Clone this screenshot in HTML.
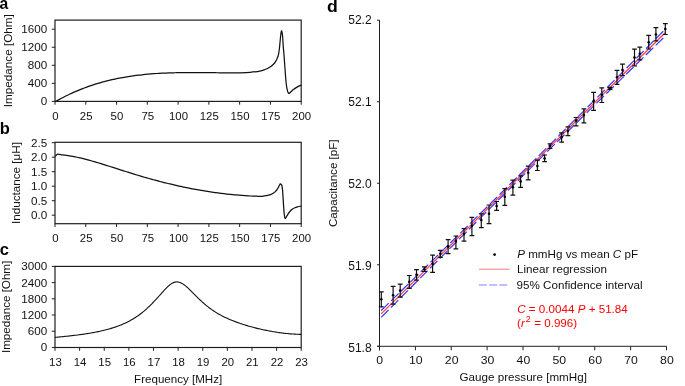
<!DOCTYPE html>
<html><head><meta charset="utf-8"><style>html,body{margin:0;padding:0;background:#fff;overflow:hidden}svg{display:block;will-change:transform}</style></head><body>
<svg width="685" height="386" viewBox="0 0 685 386" font-family='"Liberation Sans", sans-serif'>
<rect width="685" height="386" fill="#fff"/>
<rect x="55.0" y="20.1" width="246.2" height="81.30000000000001" fill="none" stroke="#1e1e1e" stroke-width="1.2"/>
<line x1="51.8" y1="101.4" x2="55.0" y2="101.4" stroke="#1e1e1e" stroke-width="1"/>
<text transform="translate(47.20,105.30) scale(1.035,1)" font-size="11.3" text-anchor="end" fill="#111" >0</text>
<line x1="51.8" y1="83.35000000000001" x2="55.0" y2="83.35000000000001" stroke="#1e1e1e" stroke-width="1"/>
<text transform="translate(47.20,87.25) scale(1.035,1)" font-size="11.3" text-anchor="end" fill="#111" >400</text>
<line x1="51.8" y1="65.30000000000001" x2="55.0" y2="65.30000000000001" stroke="#1e1e1e" stroke-width="1"/>
<text transform="translate(47.20,69.20) scale(1.035,1)" font-size="11.3" text-anchor="end" fill="#111" >800</text>
<line x1="51.8" y1="47.25" x2="55.0" y2="47.25" stroke="#1e1e1e" stroke-width="1"/>
<text transform="translate(47.20,51.15) scale(1.035,1)" font-size="11.3" text-anchor="end" fill="#111" >1200</text>
<line x1="51.8" y1="29.200000000000003" x2="55.0" y2="29.200000000000003" stroke="#1e1e1e" stroke-width="1"/>
<text transform="translate(47.20,33.10) scale(1.035,1)" font-size="11.3" text-anchor="end" fill="#111" >1600</text>
<line x1="55.0" y1="101.4" x2="55.0" y2="104.7" stroke="#1e1e1e" stroke-width="1"/>
<text transform="translate(55.40,119.50) scale(1.01,1)" font-size="11.3" text-anchor="middle" fill="#111" >0</text>
<line x1="85.775" y1="101.4" x2="85.775" y2="104.7" stroke="#1e1e1e" stroke-width="1"/>
<text transform="translate(86.18,119.50) scale(1.01,1)" font-size="11.3" text-anchor="middle" fill="#111" >25</text>
<line x1="116.55" y1="101.4" x2="116.55" y2="104.7" stroke="#1e1e1e" stroke-width="1"/>
<text transform="translate(116.95,119.50) scale(1.01,1)" font-size="11.3" text-anchor="middle" fill="#111" >50</text>
<line x1="147.325" y1="101.4" x2="147.325" y2="104.7" stroke="#1e1e1e" stroke-width="1"/>
<text transform="translate(147.72,119.50) scale(1.01,1)" font-size="11.3" text-anchor="middle" fill="#111" >75</text>
<line x1="178.1" y1="101.4" x2="178.1" y2="104.7" stroke="#1e1e1e" stroke-width="1"/>
<text transform="translate(178.50,119.50) scale(1.01,1)" font-size="11.3" text-anchor="middle" fill="#111" >100</text>
<line x1="208.875" y1="101.4" x2="208.875" y2="104.7" stroke="#1e1e1e" stroke-width="1"/>
<text transform="translate(209.28,119.50) scale(1.01,1)" font-size="11.3" text-anchor="middle" fill="#111" >125</text>
<line x1="239.64999999999998" y1="101.4" x2="239.64999999999998" y2="104.7" stroke="#1e1e1e" stroke-width="1"/>
<text transform="translate(240.05,119.50) scale(1.01,1)" font-size="11.3" text-anchor="middle" fill="#111" >150</text>
<line x1="270.42499999999995" y1="101.4" x2="270.42499999999995" y2="104.7" stroke="#1e1e1e" stroke-width="1"/>
<text transform="translate(270.82,119.50) scale(1.01,1)" font-size="11.3" text-anchor="middle" fill="#111" >175</text>
<line x1="301.2" y1="101.4" x2="301.2" y2="104.7" stroke="#1e1e1e" stroke-width="1"/>
<text transform="translate(301.60,119.50) scale(1.01,1)" font-size="11.3" text-anchor="middle" fill="#111" >200</text>
<path d="M55.00,101.80 C55.50,101.52 57.00,100.67 58.00,100.12 C59.00,99.58 60.00,99.04 61.00,98.51 C62.00,97.99 63.00,97.47 64.00,96.96 C65.00,96.46 66.00,95.96 67.00,95.48 C68.00,94.99 69.00,94.51 70.00,94.05 C71.00,93.58 72.00,93.12 73.00,92.68 C74.00,92.23 75.00,91.79 76.00,91.37 C77.00,90.94 78.00,90.52 79.00,90.11 C80.00,89.70 81.00,89.30 82.00,88.91 C83.00,88.52 84.00,88.14 85.00,87.76 C86.00,87.39 87.00,87.02 88.00,86.67 C89.00,86.31 90.00,85.97 91.00,85.63 C92.00,85.29 93.00,84.96 94.00,84.64 C95.00,84.31 96.00,84.00 97.00,83.69 C98.00,83.39 99.00,83.09 100.00,82.80 C101.00,82.51 102.00,82.23 103.00,81.96 C104.00,81.68 105.00,81.42 106.00,81.16 C107.00,80.90 108.00,80.65 109.00,80.40 C110.00,80.16 111.00,79.92 112.00,79.69 C113.00,79.47 114.00,79.24 115.00,79.03 C116.00,78.81 117.00,78.60 118.00,78.40 C119.00,78.20 120.00,78.01 121.00,77.82 C122.00,77.63 123.00,77.45 124.00,77.27 C125.00,77.10 126.00,76.93 127.00,76.77 C128.00,76.60 129.00,76.45 130.00,76.30 C131.00,76.15 132.00,76.00 133.00,75.86 C134.00,75.72 135.00,75.59 136.00,75.46 C137.00,75.33 138.00,75.21 139.00,75.09 C140.00,74.97 141.00,74.86 142.00,74.76 C143.00,74.65 144.00,74.55 145.00,74.45 C146.00,74.35 147.00,74.26 148.00,74.17 C149.00,74.08 150.00,74.00 151.00,73.92 C152.00,73.84 153.00,73.77 154.00,73.70 C155.00,73.63 156.00,73.56 157.00,73.50 C158.00,73.44 159.00,73.38 160.00,73.32 C161.00,73.27 162.00,73.22 163.00,73.17 C164.00,73.12 165.00,73.08 166.00,73.04 C167.00,73.00 168.00,72.96 169.00,72.92 C170.00,72.89 171.00,72.86 172.00,72.83 C173.00,72.80 174.00,72.78 175.00,72.75 C176.00,72.73 177.00,72.71 178.00,72.69 C179.00,72.68 180.00,72.66 181.00,72.65 C182.00,72.63 183.00,72.62 184.00,72.61 C185.00,72.61 186.00,72.60 187.00,72.59 C188.00,72.59 189.00,72.58 190.00,72.58 C191.00,72.58 192.00,72.58 193.00,72.58 C194.00,72.58 195.00,72.58 196.00,72.59 C197.00,72.59 198.00,72.60 199.00,72.60 C200.00,72.61 201.00,72.61 202.00,72.62 C203.00,72.63 204.00,72.64 205.00,72.64 C206.00,72.65 207.00,72.66 208.00,72.67 C209.00,72.68 210.00,72.69 211.00,72.70 C212.00,72.71 213.00,72.72 214.00,72.72 C215.00,72.73 216.00,72.74 217.00,72.75 C218.00,72.76 219.00,72.77 220.00,72.77 C221.00,72.78 222.00,72.79 223.00,72.80 C224.00,72.80 225.00,72.81 226.00,72.81 C227.00,72.81 228.00,72.82 229.00,72.82 C230.00,72.82 231.00,72.82 232.00,72.82 C233.00,72.82 234.00,72.82 235.00,72.81 C236.00,72.81 237.17,72.80 238.00,72.80 C238.83,72.79 238.00,72.86 240.00,72.78 C242.00,72.70 247.17,72.50 250.00,72.30 C252.83,72.10 255.17,71.83 257.00,71.60 C258.83,71.37 259.45,71.33 261.00,70.90 C262.55,70.47 264.97,69.55 266.30,69.00 C267.63,68.45 268.13,68.12 269.00,67.60 C269.87,67.08 270.57,66.67 271.50,65.90 C272.43,65.13 273.75,64.03 274.60,63.00 C275.45,61.97 276.03,60.82 276.60,59.70 C277.17,58.58 277.65,57.33 278.00,56.30 C278.35,55.27 278.47,54.80 278.70,53.50 C278.93,52.20 279.18,50.33 279.40,48.50 C279.62,46.67 279.78,44.67 280.00,42.50 C280.22,40.33 280.47,37.43 280.70,35.50 C280.93,33.57 281.17,31.40 281.40,30.90 C281.63,30.40 281.88,31.40 282.10,32.50 C282.32,33.60 282.50,35.08 282.70,37.50 C282.90,39.92 283.08,44.08 283.30,47.00 C283.52,49.92 283.75,51.83 284.00,55.00 C284.25,58.17 284.53,62.33 284.80,66.00 C285.07,69.67 285.33,73.83 285.60,77.00 C285.87,80.17 286.10,82.75 286.40,85.00 C286.70,87.25 287.03,89.10 287.40,90.50 C287.77,91.90 288.08,93.12 288.60,93.40 C289.12,93.68 289.75,92.80 290.50,92.20 C291.25,91.60 292.02,90.65 293.10,89.80 C294.18,88.95 295.65,87.90 297.00,87.10 C298.35,86.30 300.50,85.35 301.20,85.00" fill="none" stroke="#111" stroke-width="1.25"/>
<text transform="translate(-0.50,8.90) scale(0.95,1)" font-size="16.5" text-anchor="start" fill="#000" font-weight="bold">a</text>
<text transform="translate(12.30,60.70) rotate(-90) scale(1.056,1)" font-size="11.1" text-anchor="middle" fill="#111" >Impedance [Ohm]</text>
<rect x="55.0" y="142.3" width="246.2" height="81.39999999999998" fill="none" stroke="#1e1e1e" stroke-width="1.2"/>
<line x1="51.8" y1="215.2" x2="55.0" y2="215.2" stroke="#1e1e1e" stroke-width="1"/>
<text transform="translate(47.20,219.10) scale(1.035,1)" font-size="11.3" text-anchor="end" fill="#111" >0.0</text>
<line x1="51.8" y1="200.7" x2="55.0" y2="200.7" stroke="#1e1e1e" stroke-width="1"/>
<text transform="translate(47.20,204.60) scale(1.035,1)" font-size="11.3" text-anchor="end" fill="#111" >0.5</text>
<line x1="51.8" y1="186.2" x2="55.0" y2="186.2" stroke="#1e1e1e" stroke-width="1"/>
<text transform="translate(47.20,190.10) scale(1.035,1)" font-size="11.3" text-anchor="end" fill="#111" >1.0</text>
<line x1="51.8" y1="171.7" x2="55.0" y2="171.7" stroke="#1e1e1e" stroke-width="1"/>
<text transform="translate(47.20,175.60) scale(1.035,1)" font-size="11.3" text-anchor="end" fill="#111" >1.5</text>
<line x1="51.8" y1="157.2" x2="55.0" y2="157.2" stroke="#1e1e1e" stroke-width="1"/>
<text transform="translate(47.20,161.10) scale(1.035,1)" font-size="11.3" text-anchor="end" fill="#111" >2.0</text>
<line x1="51.8" y1="142.7" x2="55.0" y2="142.7" stroke="#1e1e1e" stroke-width="1"/>
<text transform="translate(47.20,146.60) scale(1.035,1)" font-size="11.3" text-anchor="end" fill="#111" >2.5</text>
<line x1="55.0" y1="223.7" x2="55.0" y2="227.0" stroke="#1e1e1e" stroke-width="1"/>
<text transform="translate(55.40,241.70) scale(1.01,1)" font-size="11.3" text-anchor="middle" fill="#111" >0</text>
<line x1="85.775" y1="223.7" x2="85.775" y2="227.0" stroke="#1e1e1e" stroke-width="1"/>
<text transform="translate(86.18,241.70) scale(1.01,1)" font-size="11.3" text-anchor="middle" fill="#111" >25</text>
<line x1="116.55" y1="223.7" x2="116.55" y2="227.0" stroke="#1e1e1e" stroke-width="1"/>
<text transform="translate(116.95,241.70) scale(1.01,1)" font-size="11.3" text-anchor="middle" fill="#111" >50</text>
<line x1="147.325" y1="223.7" x2="147.325" y2="227.0" stroke="#1e1e1e" stroke-width="1"/>
<text transform="translate(147.72,241.70) scale(1.01,1)" font-size="11.3" text-anchor="middle" fill="#111" >75</text>
<line x1="178.1" y1="223.7" x2="178.1" y2="227.0" stroke="#1e1e1e" stroke-width="1"/>
<text transform="translate(178.50,241.70) scale(1.01,1)" font-size="11.3" text-anchor="middle" fill="#111" >100</text>
<line x1="208.875" y1="223.7" x2="208.875" y2="227.0" stroke="#1e1e1e" stroke-width="1"/>
<text transform="translate(209.28,241.70) scale(1.01,1)" font-size="11.3" text-anchor="middle" fill="#111" >125</text>
<line x1="239.64999999999998" y1="223.7" x2="239.64999999999998" y2="227.0" stroke="#1e1e1e" stroke-width="1"/>
<text transform="translate(240.05,241.70) scale(1.01,1)" font-size="11.3" text-anchor="middle" fill="#111" >150</text>
<line x1="270.42499999999995" y1="223.7" x2="270.42499999999995" y2="227.0" stroke="#1e1e1e" stroke-width="1"/>
<text transform="translate(270.82,241.70) scale(1.01,1)" font-size="11.3" text-anchor="middle" fill="#111" >175</text>
<line x1="301.2" y1="223.7" x2="301.2" y2="227.0" stroke="#1e1e1e" stroke-width="1"/>
<text transform="translate(301.60,241.70) scale(1.01,1)" font-size="11.3" text-anchor="middle" fill="#111" >200</text>
<path d="M55.30,156.50 C55.62,156.13 56.08,154.58 57.20,154.30 C58.32,154.02 60.70,154.67 62.00,154.82 C63.30,154.96 64.00,155.03 65.00,155.16 C66.00,155.29 67.00,155.43 68.00,155.58 C69.00,155.74 70.00,155.90 71.00,156.07 C72.00,156.25 73.00,156.43 74.00,156.63 C75.00,156.82 76.00,157.03 77.00,157.24 C78.00,157.45 79.00,157.68 80.00,157.91 C81.00,158.14 82.00,158.38 83.00,158.63 C84.00,158.87 85.00,159.13 86.00,159.39 C87.00,159.65 88.00,159.91 89.00,160.19 C90.00,160.46 91.00,160.74 92.00,161.02 C93.00,161.30 94.00,161.59 95.00,161.88 C96.00,162.18 97.00,162.47 98.00,162.77 C99.00,163.07 100.00,163.37 101.00,163.68 C102.00,163.98 103.00,164.29 104.00,164.60 C105.00,164.91 106.00,165.22 107.00,165.53 C108.00,165.85 109.00,166.16 110.00,166.48 C111.00,166.79 112.00,167.11 113.00,167.43 C114.00,167.75 115.00,168.07 116.00,168.39 C117.00,168.70 118.00,169.02 119.00,169.34 C120.00,169.66 121.00,169.98 122.00,170.30 C123.00,170.62 124.00,170.94 125.00,171.26 C126.00,171.58 127.00,171.89 128.00,172.21 C129.00,172.52 130.00,172.84 131.00,173.15 C132.00,173.46 133.00,173.78 134.00,174.09 C135.00,174.39 136.00,174.70 137.00,175.01 C138.00,175.31 139.00,175.61 140.00,175.91 C141.00,176.21 142.00,176.51 143.00,176.80 C144.00,177.09 145.00,177.38 146.00,177.67 C147.00,177.96 148.00,178.24 149.00,178.52 C150.00,178.80 151.00,179.08 152.00,179.36 C153.00,179.63 154.00,179.90 155.00,180.17 C156.00,180.44 157.00,180.71 158.00,180.97 C159.00,181.24 160.00,181.50 161.00,181.75 C162.00,182.01 163.00,182.26 164.00,182.52 C165.00,182.77 166.00,183.01 167.00,183.26 C168.00,183.50 169.00,183.75 170.00,183.98 C171.00,184.22 172.00,184.46 173.00,184.69 C174.00,184.92 175.00,185.15 176.00,185.38 C177.00,185.61 178.00,185.83 179.00,186.05 C180.00,186.27 181.00,186.48 182.00,186.70 C183.00,186.91 184.00,187.12 185.00,187.33 C186.00,187.53 187.00,187.74 188.00,187.94 C189.00,188.14 190.00,188.34 191.00,188.53 C192.00,188.72 193.00,188.91 194.00,189.10 C195.00,189.29 196.00,189.47 197.00,189.65 C198.00,189.83 199.00,190.01 200.00,190.18 C201.00,190.36 202.00,190.53 203.00,190.69 C204.00,190.86 205.00,191.02 206.00,191.18 C207.00,191.34 208.00,191.50 209.00,191.66 C210.00,191.81 211.00,191.96 212.00,192.11 C213.00,192.25 214.00,192.40 215.00,192.54 C216.00,192.68 217.00,192.82 218.00,192.95 C219.00,193.08 220.00,193.21 221.00,193.34 C222.00,193.47 223.00,193.59 224.00,193.71 C225.00,193.83 226.00,193.95 227.00,194.06 C228.00,194.17 229.00,194.28 230.00,194.38 C231.00,194.49 232.00,194.59 233.00,194.69 C234.00,194.78 235.00,194.88 236.00,194.97 C237.00,195.06 238.00,195.14 239.00,195.22 C240.00,195.30 241.00,195.38 242.00,195.45 C243.00,195.53 244.00,195.60 245.00,195.66 C246.00,195.72 247.00,195.79 248.00,195.84 C249.00,195.90 250.00,195.95 251.00,196.00 C252.00,196.04 253.00,196.09 254.00,196.13 C255.00,196.16 256.00,196.20 257.00,196.23 C258.00,196.26 259.17,196.28 260.00,196.30 C260.83,196.32 260.92,196.43 262.00,196.33 C263.08,196.23 265.08,195.97 266.50,195.70 C267.92,195.43 269.33,195.13 270.50,194.70 C271.67,194.27 272.67,193.65 273.50,193.10 C274.33,192.55 274.88,192.03 275.50,191.40 C276.12,190.77 276.70,190.02 277.20,189.30 C277.70,188.58 278.12,187.78 278.50,187.10 C278.88,186.42 279.20,185.73 279.50,185.20 C279.80,184.67 280.02,184.05 280.30,183.90 C280.58,183.75 280.92,183.95 281.20,184.30 C281.48,184.65 281.77,184.97 282.00,186.00 C282.23,187.03 282.42,188.50 282.60,190.50 C282.78,192.50 282.93,195.42 283.10,198.00 C283.27,200.58 283.43,203.55 283.60,206.00 C283.77,208.45 283.93,210.90 284.10,212.70 C284.27,214.50 284.42,215.85 284.60,216.80 C284.78,217.75 284.97,218.28 285.20,218.40 C285.43,218.52 285.70,217.93 286.00,217.50 C286.30,217.07 286.58,216.50 287.00,215.80 C287.42,215.10 287.92,214.13 288.50,213.30 C289.08,212.47 289.83,211.52 290.50,210.80 C291.17,210.08 291.78,209.52 292.50,209.00 C293.22,208.48 293.97,208.07 294.80,207.70 C295.63,207.33 296.43,207.07 297.50,206.80 C298.57,206.53 300.58,206.22 301.20,206.10" fill="none" stroke="#111" stroke-width="1.25"/>
<text transform="translate(-0.30,133.60)" font-size="16.5" text-anchor="start" fill="#000" font-weight="bold">b</text>
<text transform="translate(19.70,183.10) rotate(-90) scale(1.053,1)" font-size="11.1" text-anchor="middle" fill="#111" >Inductance [μH]</text>
<rect x="55.0" y="266.4" width="246.2" height="81.10000000000002" fill="none" stroke="#1e1e1e" stroke-width="1.2"/>
<line x1="51.8" y1="347.45" x2="55.0" y2="347.45" stroke="#1e1e1e" stroke-width="1"/>
<text transform="translate(47.20,351.35) scale(1.035,1)" font-size="11.3" text-anchor="end" fill="#111" >0</text>
<line x1="51.8" y1="331.24" x2="55.0" y2="331.24" stroke="#1e1e1e" stroke-width="1"/>
<text transform="translate(47.20,335.14) scale(1.035,1)" font-size="11.3" text-anchor="end" fill="#111" >600</text>
<line x1="51.8" y1="315.03" x2="55.0" y2="315.03" stroke="#1e1e1e" stroke-width="1"/>
<text transform="translate(47.20,318.93) scale(1.035,1)" font-size="11.3" text-anchor="end" fill="#111" >1200</text>
<line x1="51.8" y1="298.82" x2="55.0" y2="298.82" stroke="#1e1e1e" stroke-width="1"/>
<text transform="translate(47.20,302.72) scale(1.035,1)" font-size="11.3" text-anchor="end" fill="#111" >1800</text>
<line x1="51.8" y1="282.61" x2="55.0" y2="282.61" stroke="#1e1e1e" stroke-width="1"/>
<text transform="translate(47.20,286.51) scale(1.035,1)" font-size="11.3" text-anchor="end" fill="#111" >2400</text>
<line x1="51.8" y1="266.4" x2="55.0" y2="266.4" stroke="#1e1e1e" stroke-width="1"/>
<text transform="translate(47.20,270.30) scale(1.035,1)" font-size="11.3" text-anchor="end" fill="#111" >3000</text>
<line x1="55.0" y1="347.5" x2="55.0" y2="350.8" stroke="#1e1e1e" stroke-width="1"/>
<text transform="translate(55.40,366.00) scale(1.01,1)" font-size="11.3" text-anchor="middle" fill="#111" >13</text>
<line x1="79.62" y1="347.5" x2="79.62" y2="350.8" stroke="#1e1e1e" stroke-width="1"/>
<text transform="translate(80.02,366.00) scale(1.01,1)" font-size="11.3" text-anchor="middle" fill="#111" >14</text>
<line x1="104.24" y1="347.5" x2="104.24" y2="350.8" stroke="#1e1e1e" stroke-width="1"/>
<text transform="translate(104.64,366.00) scale(1.01,1)" font-size="11.3" text-anchor="middle" fill="#111" >15</text>
<line x1="128.85999999999999" y1="347.5" x2="128.85999999999999" y2="350.8" stroke="#1e1e1e" stroke-width="1"/>
<text transform="translate(129.26,366.00) scale(1.01,1)" font-size="11.3" text-anchor="middle" fill="#111" >16</text>
<line x1="153.48" y1="347.5" x2="153.48" y2="350.8" stroke="#1e1e1e" stroke-width="1"/>
<text transform="translate(153.88,366.00) scale(1.01,1)" font-size="11.3" text-anchor="middle" fill="#111" >17</text>
<line x1="178.1" y1="347.5" x2="178.1" y2="350.8" stroke="#1e1e1e" stroke-width="1"/>
<text transform="translate(178.50,366.00) scale(1.01,1)" font-size="11.3" text-anchor="middle" fill="#111" >18</text>
<line x1="202.71999999999997" y1="347.5" x2="202.71999999999997" y2="350.8" stroke="#1e1e1e" stroke-width="1"/>
<text transform="translate(203.12,366.00) scale(1.01,1)" font-size="11.3" text-anchor="middle" fill="#111" >19</text>
<line x1="227.33999999999997" y1="347.5" x2="227.33999999999997" y2="350.8" stroke="#1e1e1e" stroke-width="1"/>
<text transform="translate(227.74,366.00) scale(1.01,1)" font-size="11.3" text-anchor="middle" fill="#111" >20</text>
<line x1="251.95999999999998" y1="347.5" x2="251.95999999999998" y2="350.8" stroke="#1e1e1e" stroke-width="1"/>
<text transform="translate(252.36,366.00) scale(1.01,1)" font-size="11.3" text-anchor="middle" fill="#111" >21</text>
<line x1="276.58" y1="347.5" x2="276.58" y2="350.8" stroke="#1e1e1e" stroke-width="1"/>
<text transform="translate(276.98,366.00) scale(1.01,1)" font-size="11.3" text-anchor="middle" fill="#111" >22</text>
<line x1="301.2" y1="347.5" x2="301.2" y2="350.8" stroke="#1e1e1e" stroke-width="1"/>
<text transform="translate(301.60,366.00) scale(1.01,1)" font-size="11.3" text-anchor="middle" fill="#111" >23</text>
<path d="M55.00,337.37 L56.00,337.28 L57.00,337.18 L58.00,337.09 L59.00,337.00 L60.00,336.90 L61.00,336.81 L62.01,336.71 L63.01,336.61 L64.01,336.51 L65.01,336.41 L66.01,336.31 L67.01,336.20 L68.01,336.10 L69.01,335.99 L70.01,335.88 L71.01,335.77 L72.01,335.66 L73.01,335.54 L74.02,335.42 L75.02,335.30 L76.02,335.18 L77.02,335.06 L78.02,334.93 L79.02,334.80 L80.02,334.67 L81.02,334.53 L82.02,334.39 L83.02,334.25 L84.02,334.11 L85.02,333.96 L86.03,333.81 L87.03,333.65 L88.03,333.50 L89.03,333.33 L90.03,333.17 L91.03,332.99 L92.03,332.82 L93.03,332.64 L94.03,332.45 L95.03,332.26 L96.03,332.07 L97.03,331.87 L98.03,331.66 L99.04,331.45 L100.04,331.24 L101.04,331.01 L102.04,330.79 L103.04,330.55 L104.04,330.31 L105.04,330.06 L106.04,329.80 L107.04,329.54 L108.04,329.27 L109.04,328.99 L110.04,328.70 L111.05,328.40 L112.05,328.10 L113.05,327.78 L114.05,327.46 L115.05,327.13 L116.05,326.78 L117.05,326.43 L118.05,326.06 L119.05,325.68 L120.05,325.29 L121.05,324.89 L122.05,324.48 L123.06,324.05 L124.06,323.61 L125.06,323.16 L126.06,322.69 L127.06,322.20 L128.06,321.70 L129.06,321.18 L130.06,320.65 L131.06,320.10 L132.06,319.53 L133.06,318.94 L134.06,318.34 L135.07,317.71 L136.07,317.06 L137.07,316.39 L138.07,315.70 L139.07,314.99 L140.07,314.25 L141.07,313.49 L142.07,312.71 L143.07,311.90 L144.07,311.06 L145.07,310.20 L146.07,309.31 L147.07,308.40 L148.08,307.47 L149.08,306.51 L150.08,305.54 L151.08,304.54 L152.08,303.53 L153.08,302.50 L154.08,301.46 L155.08,300.39 L156.08,299.32 L157.08,298.22 L158.08,297.12 L159.08,296.00 L160.09,294.88 L161.09,293.76 L162.09,292.63 L163.09,291.52 L164.09,290.42 L165.09,289.34 L166.09,288.29 L167.09,287.29 L168.09,286.34 L169.09,285.45 L170.09,284.64 L171.09,283.92 L172.10,283.29 L173.10,282.78 L174.10,282.38 L175.10,282.10 L176.10,281.94 L177.10,281.91 L178.10,282.01 L179.10,282.22 L180.10,282.54 L181.10,282.97 L182.10,283.50 L183.10,284.11 L184.10,284.81 L185.11,285.57 L186.11,286.40 L187.11,287.27 L188.11,288.17 L189.11,289.11 L190.11,290.08 L191.11,291.06 L192.11,292.06 L193.11,293.06 L194.11,294.07 L195.11,295.08 L196.11,296.08 L197.12,297.08 L198.12,298.07 L199.12,299.04 L200.12,299.99 L201.12,300.93 L202.12,301.85 L203.12,302.75 L204.12,303.63 L205.12,304.49 L206.12,305.32 L207.12,306.14 L208.12,306.93 L209.13,307.70 L210.13,308.45 L211.13,309.17 L212.13,309.88 L213.13,310.56 L214.13,311.23 L215.13,311.87 L216.13,312.50 L217.13,313.11 L218.13,313.70 L219.13,314.27 L220.13,314.83 L221.13,315.37 L222.14,315.90 L223.14,316.41 L224.14,316.91 L225.14,317.39 L226.14,317.86 L227.14,318.32 L228.14,318.77 L229.14,319.21 L230.14,319.64 L231.14,320.05 L232.14,320.46 L233.14,320.86 L234.15,321.25 L235.15,321.63 L236.15,322.00 L237.15,322.37 L238.15,322.72 L239.15,323.08 L240.15,323.42 L241.15,323.76 L242.15,324.09 L243.15,324.41 L244.15,324.73 L245.15,325.04 L246.16,325.35 L247.16,325.65 L248.16,325.94 L249.16,326.23 L250.16,326.51 L251.16,326.79 L252.16,327.06 L253.16,327.33 L254.16,327.59 L255.16,327.85 L256.16,328.10 L257.16,328.35 L258.17,328.59 L259.17,328.83 L260.17,329.07 L261.17,329.29 L262.17,329.52 L263.17,329.74 L264.17,329.95 L265.17,330.16 L266.17,330.36 L267.17,330.56 L268.17,330.76 L269.17,330.95 L270.17,331.14 L271.18,331.32 L272.18,331.49 L273.18,331.67 L274.18,331.83 L275.18,331.99 L276.18,332.15 L277.18,332.30 L278.18,332.45 L279.18,332.59 L280.18,332.73 L281.18,332.86 L282.18,332.99 L283.19,333.11 L284.19,333.23 L285.19,333.34 L286.19,333.45 L287.19,333.55 L288.19,333.65 L289.19,333.74 L290.19,333.83 L291.19,333.91 L292.19,333.98 L293.19,334.05 L294.19,334.11 L295.20,334.17 L296.20,334.22 L297.20,334.27 L298.20,334.31 L299.20,334.34 L300.20,334.37 L301.20,334.39" fill="none" stroke="#111" stroke-width="1.1"/>
<text transform="translate(-0.30,255.30)" font-size="16.5" text-anchor="start" fill="#000" font-weight="bold">c</text>
<text transform="translate(9.80,306.90) rotate(-90) scale(1.047,1)" font-size="11.1" text-anchor="middle" fill="#111" >Impedance [Ohm]</text>
<text transform="translate(178.15,382.90) scale(1.044,1)" font-size="11.1" text-anchor="middle" fill="#111" >Frequency [MHz]</text>
<line x1="379.5" y1="20.2" x2="379.5" y2="350.3" stroke="#222" stroke-width="1"/>
<line x1="377.0" y1="346.3" x2="666.5" y2="346.3" stroke="#222" stroke-width="1"/>
<line x1="377.0" y1="346.30" x2="379.5" y2="346.30" stroke="#222" stroke-width="1"/>
<text transform="translate(371.60,352.15)" font-size="12.0" text-anchor="end" fill="#111" >51.8</text>
<line x1="377.0" y1="264.78" x2="379.5" y2="264.78" stroke="#222" stroke-width="1"/>
<text transform="translate(371.60,270.15)" font-size="12.0" text-anchor="end" fill="#111" >51.9</text>
<line x1="377.0" y1="183.26" x2="379.5" y2="183.26" stroke="#222" stroke-width="1"/>
<text transform="translate(371.60,188.15)" font-size="12.0" text-anchor="end" fill="#111" >52.0</text>
<line x1="377.0" y1="101.74" x2="379.5" y2="101.74" stroke="#222" stroke-width="1"/>
<text transform="translate(371.60,106.15)" font-size="12.0" text-anchor="end" fill="#111" >52.1</text>
<line x1="377.0" y1="20.22" x2="379.5" y2="20.22" stroke="#222" stroke-width="1"/>
<text transform="translate(371.60,24.15)" font-size="12.0" text-anchor="end" fill="#111" >52.2</text>
<line x1="379.50" y1="346.3" x2="379.50" y2="350.3" stroke="#222" stroke-width="1"/>
<text transform="translate(379.70,364.10) scale(1.04,1)" font-size="11.8" text-anchor="middle" fill="#111" >0</text>
<line x1="415.38" y1="346.3" x2="415.38" y2="350.3" stroke="#222" stroke-width="1"/>
<text transform="translate(415.77,364.10) scale(1.04,1)" font-size="11.8" text-anchor="middle" fill="#111" >10</text>
<line x1="451.25" y1="346.3" x2="451.25" y2="350.3" stroke="#222" stroke-width="1"/>
<text transform="translate(451.65,364.10) scale(1.04,1)" font-size="11.8" text-anchor="middle" fill="#111" >20</text>
<line x1="487.12" y1="346.3" x2="487.12" y2="350.3" stroke="#222" stroke-width="1"/>
<text transform="translate(487.52,364.10) scale(1.04,1)" font-size="11.8" text-anchor="middle" fill="#111" >30</text>
<line x1="523.00" y1="346.3" x2="523.00" y2="350.3" stroke="#222" stroke-width="1"/>
<text transform="translate(523.40,364.10) scale(1.04,1)" font-size="11.8" text-anchor="middle" fill="#111" >40</text>
<line x1="558.88" y1="346.3" x2="558.88" y2="350.3" stroke="#222" stroke-width="1"/>
<text transform="translate(559.27,364.10) scale(1.04,1)" font-size="11.8" text-anchor="middle" fill="#111" >50</text>
<line x1="594.75" y1="346.3" x2="594.75" y2="350.3" stroke="#222" stroke-width="1"/>
<text transform="translate(595.15,364.10) scale(1.04,1)" font-size="11.8" text-anchor="middle" fill="#111" >60</text>
<line x1="630.62" y1="346.3" x2="630.62" y2="350.3" stroke="#222" stroke-width="1"/>
<text transform="translate(631.02,364.10) scale(1.04,1)" font-size="11.8" text-anchor="middle" fill="#111" >70</text>
<line x1="666.50" y1="346.3" x2="666.50" y2="350.3" stroke="#222" stroke-width="1"/>
<text transform="translate(666.90,364.10) scale(1.04,1)" font-size="11.8" text-anchor="middle" fill="#111" >80</text>
<text transform="translate(523.20,381.30) scale(1.04,1)" font-size="11.2" text-anchor="middle" fill="#111" >Gauge pressure [mmHg]</text>
<text transform="translate(337.20,183.25) rotate(-90) scale(1.035,1)" font-size="11.2" text-anchor="middle" fill="#111" >Capacitance [pF]</text>
<text transform="translate(326.90,12.20) scale(1.07,1)" font-size="16.5" text-anchor="start" fill="#000" font-weight="bold">d</text>
<path d="M381.20,310.50 L386.01,305.81 L390.82,301.12 L395.63,296.43 L400.43,291.74 L405.24,287.04 L410.05,282.35 L414.86,277.65 L419.67,272.95 L424.48,268.25 L429.28,263.55 L434.09,258.84 L438.90,254.14 L443.71,249.43 L448.52,244.72 L453.33,240.01 L458.14,235.30 L462.94,230.58 L467.75,225.86 L472.56,221.14 L477.37,216.41 L482.18,211.68 L486.99,206.95 L491.79,202.22 L496.60,197.48 L501.41,192.74 L506.22,187.99 L511.03,183.24 L515.84,178.49 L520.65,173.73 L525.45,168.97 L530.26,164.21 L535.07,159.44 L539.88,154.66 L544.69,149.89 L549.50,145.11 L554.31,140.32 L559.11,135.54 L563.92,130.75 L568.73,125.95 L573.54,121.16 L578.35,116.36 L583.16,111.55 L587.96,106.75 L592.77,101.94 L597.58,97.13 L602.39,92.32 L607.20,87.50 L612.01,82.69 L616.82,77.87 L621.62,73.05 L626.43,68.23 L631.24,63.40 L636.05,58.58 L640.86,53.75 L645.67,48.92 L650.47,44.09 L655.28,39.27 L660.09,34.43 L664.90,29.60" fill="none" stroke="#0000ff" stroke-width="1.2" stroke-opacity="0.8" stroke-dasharray="10.5 3.3"/>
<path d="M381.20,317.30 L386.01,312.47 L390.82,307.63 L395.63,302.81 L400.43,297.98 L405.24,293.15 L410.05,288.32 L414.86,283.50 L419.67,278.67 L424.48,273.85 L429.28,269.03 L434.09,264.21 L438.90,259.40 L443.71,254.58 L448.52,249.77 L453.33,244.96 L458.14,240.15 L462.94,235.35 L467.75,230.54 L472.56,225.74 L477.37,220.95 L482.18,216.15 L486.99,211.36 L491.79,206.58 L496.60,201.79 L501.41,197.01 L506.22,192.24 L511.03,187.46 L515.84,182.69 L520.65,177.93 L525.45,173.17 L530.26,168.41 L535.07,163.66 L539.88,158.91 L544.69,154.16 L549.50,149.42 L554.31,144.68 L559.11,139.95 L563.92,135.22 L568.73,130.49 L573.54,125.76 L578.35,121.04 L583.16,116.32 L587.96,111.60 L592.77,106.89 L597.58,102.18 L602.39,97.47 L607.20,92.76 L612.01,88.06 L616.82,83.35 L621.62,78.65 L626.43,73.95 L631.24,69.25 L636.05,64.55 L640.86,59.86 L645.67,55.16 L650.47,50.47 L655.28,45.78 L660.09,41.09 L664.90,36.40" fill="none" stroke="#0000ff" stroke-width="1.2" stroke-opacity="0.8" stroke-dasharray="10.5 3.3"/>
<line x1="381.2" y1="313.9" x2="664.9" y2="33.0" stroke="#ff1a1a" stroke-width="1.2" stroke-opacity="0.85"/>
<path d="M381.30,291.80V306.90M378.90,291.80H383.70M378.90,306.90H383.70M393.10,286.40V304.20M390.70,286.40H395.50M390.70,304.20H395.50M400.20,284.10V297.10M397.80,284.10H402.60M397.80,297.10H402.60M409.30,275.50V288.30M406.90,275.50H411.70M406.90,288.30H411.70M416.50,269.60V280.10M414.10,269.60H418.90M414.10,280.10H418.90M424.40,266.80V271.50M422.00,266.80H426.80M422.00,271.50H426.80M432.60,255.20V272.40M430.20,255.20H435.00M430.20,272.40H435.00M440.30,250.30V257.30M437.90,250.30H442.70M437.90,257.30H442.70M448.10,239.70V253.60M445.70,239.70H450.50M445.70,253.60H450.50M455.90,236.00V248.80M453.50,236.00H458.30M453.50,248.80H458.30M464.00,228.70V241.10M461.60,228.70H466.40M461.60,241.10H466.40M471.90,217.30V235.70M469.50,217.30H474.30M469.50,235.70H474.30M481.30,213.80V227.60M478.90,213.80H483.70M478.90,227.60H483.70M489.00,205.00V223.60M486.60,205.00H491.40M486.60,223.60H491.40M496.60,201.50V210.30M494.20,201.50H499.00M494.20,210.30H499.00M504.80,188.60V205.40M502.40,188.60H507.20M502.40,205.40H507.20M512.90,180.20V195.10M510.50,180.20H515.30M510.50,195.10H515.30M520.60,175.90V187.30M518.20,175.90H523.00M518.20,187.30H523.00M528.20,166.20V179.90M525.80,166.20H530.60M525.80,179.90H530.60M537.40,160.20V170.50M535.00,160.20H539.80M535.00,170.50H539.80M544.60,155.00V161.70M542.20,155.00H547.00M542.20,161.70H547.00M550.00,143.80V148.50M547.60,143.80H552.40M547.60,148.50H552.40M561.60,132.80V142.20M559.20,132.80H564.00M559.20,142.20H564.00M567.90,126.80V135.60M565.50,126.80H570.30M565.50,135.60H570.30M576.10,117.50V125.90M573.70,117.50H578.50M573.70,125.90H578.50M583.90,108.80V122.80M581.50,108.80H586.30M581.50,122.80H586.30M593.60,92.40V110.40M591.20,92.40H596.00M591.20,110.40H596.00M601.80,87.80V102.50M599.40,87.80H604.20M599.40,102.50H604.20M610.00,87.30V89.30M607.60,87.30H612.40M607.60,89.30H612.40M617.00,70.30V84.30M614.60,70.30H619.40M614.60,84.30H619.40M622.50,64.20V75.70M620.10,64.20H624.90M620.10,75.70H624.90M634.50,49.10V65.80M632.10,49.10H636.90M632.10,65.80H636.90M639.80,47.10V59.90M637.40,47.10H642.20M637.40,59.90H642.20M648.70,35.40V49.00M646.30,35.40H651.10M646.30,49.00H651.10M655.90,27.60V40.80M653.50,27.60H658.30M653.50,40.80H658.30M665.30,23.60V34.50M662.90,23.60H667.70M662.90,34.50H667.70" fill="none" stroke="#111" stroke-width="1.2"/>
<circle cx="381.30" cy="299.20" r="1.3" fill="#000"/>
<circle cx="393.10" cy="295.30" r="1.3" fill="#000"/>
<circle cx="400.20" cy="290.60" r="1.3" fill="#000"/>
<circle cx="409.30" cy="281.70" r="1.3" fill="#000"/>
<circle cx="416.50" cy="274.80" r="1.3" fill="#000"/>
<circle cx="424.40" cy="269.20" r="1.3" fill="#000"/>
<circle cx="432.60" cy="263.80" r="1.3" fill="#000"/>
<circle cx="440.30" cy="253.80" r="1.3" fill="#000"/>
<circle cx="448.10" cy="246.60" r="1.3" fill="#000"/>
<circle cx="455.90" cy="241.10" r="1.3" fill="#000"/>
<circle cx="464.00" cy="234.10" r="1.3" fill="#000"/>
<circle cx="471.90" cy="225.90" r="1.3" fill="#000"/>
<circle cx="481.30" cy="220.10" r="1.3" fill="#000"/>
<circle cx="489.00" cy="213.80" r="1.3" fill="#000"/>
<circle cx="496.60" cy="206.10" r="1.3" fill="#000"/>
<circle cx="504.80" cy="196.80" r="1.3" fill="#000"/>
<circle cx="512.90" cy="187.20" r="1.3" fill="#000"/>
<circle cx="520.60" cy="181.40" r="1.3" fill="#000"/>
<circle cx="528.20" cy="172.80" r="1.3" fill="#000"/>
<circle cx="537.40" cy="166.00" r="1.3" fill="#000"/>
<circle cx="544.60" cy="158.50" r="1.3" fill="#000"/>
<circle cx="550.00" cy="146.10" r="1.3" fill="#000"/>
<circle cx="561.60" cy="137.30" r="1.3" fill="#000"/>
<circle cx="567.90" cy="131.00" r="1.3" fill="#000"/>
<circle cx="576.10" cy="120.50" r="1.3" fill="#000"/>
<circle cx="583.90" cy="115.10" r="1.3" fill="#000"/>
<circle cx="593.60" cy="101.10" r="1.3" fill="#000"/>
<circle cx="601.80" cy="94.80" r="1.3" fill="#000"/>
<circle cx="610.00" cy="88.30" r="1.3" fill="#000"/>
<circle cx="617.00" cy="77.30" r="1.3" fill="#000"/>
<circle cx="622.50" cy="70.00" r="1.3" fill="#000"/>
<circle cx="634.50" cy="57.50" r="1.3" fill="#000"/>
<circle cx="639.80" cy="53.70" r="1.3" fill="#000"/>
<circle cx="648.70" cy="42.30" r="1.3" fill="#000"/>
<circle cx="655.90" cy="34.50" r="1.3" fill="#000"/>
<circle cx="665.30" cy="29.00" r="1.3" fill="#000"/>
<circle cx="494.6" cy="254.6" r="1.35" fill="#000"/>
<text transform="translate(517.2,257.8) scale(1.04,1)" font-size="11.2" fill="#111"><tspan font-style="italic">P</tspan> mmHg vs mean <tspan font-style="italic">C</tspan> pF</text>
<line x1="479" y1="269.2" x2="509.7" y2="269.2" stroke="#ff0000" stroke-width="0.9" opacity="0.6"/>
<text transform="translate(517,273) scale(1.04,1)" font-size="11.2" fill="#111">Linear regression</text>
<line x1="479" y1="285" x2="508" y2="285" stroke="#0000ff" stroke-width="1.1" stroke-dasharray="7.9 2.3" opacity="0.5"/>
<text transform="translate(516.6,289.4) scale(1.04,1)" font-size="11.2" fill="#111">95% Confidence interval</text>
<text transform="translate(517.2,312.6) scale(1.04,1)" font-size="11.2" fill="#ff0000"><tspan font-style="italic">C</tspan> = 0.0044 <tspan font-style="italic">P</tspan> + 51.84</text>
<text transform="translate(517,326.5) scale(1.04,1)" font-size="11.2" fill="#ff0000">(<tspan font-style="italic">r</tspan><tspan font-size="8.5" dx="0.9" dy="-4.6">2</tspan><tspan dx="0.3" dy="4.6"> = 0.996)</tspan></text>
</svg>
</body></html>
